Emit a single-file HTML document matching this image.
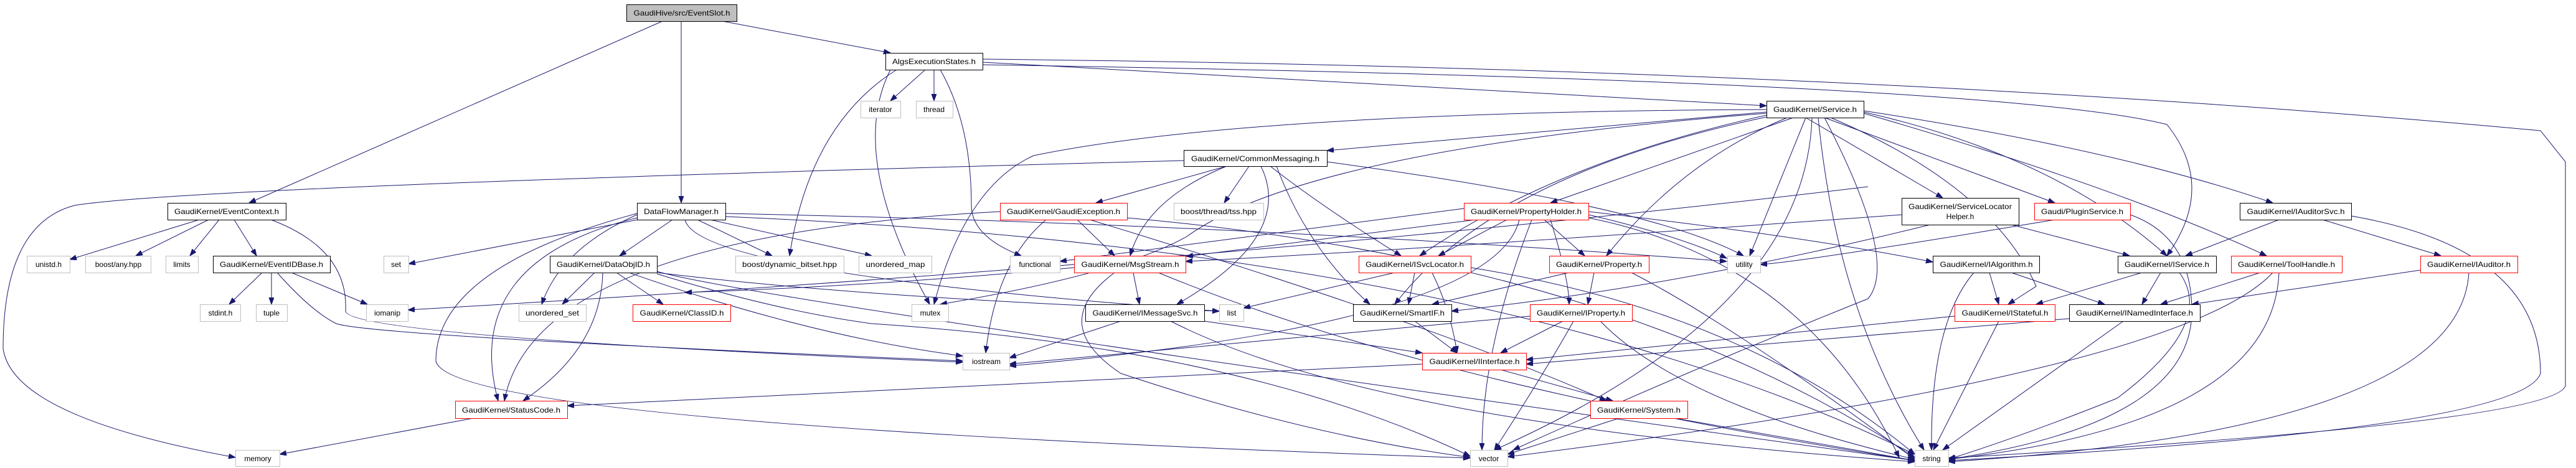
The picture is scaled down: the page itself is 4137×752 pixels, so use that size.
<!DOCTYPE html>
<html><head><meta charset="utf-8"><style>
html,body{margin:0;padding:0;background:#fff;}
svg{display:block}
text{font-family:"Liberation Sans",sans-serif;font-size:12px;fill:#000;}
.e{stroke:#191970;stroke-width:1;fill:none;marker-end:url(#a)}
.b{fill:#fff;stroke:#000;stroke-width:1}
.r{fill:#fff;stroke:#ff0000;stroke-width:1}
.g{fill:#fff;stroke:#bfbfbf;stroke-width:1}
</style></head><body>
<svg width="4137" height="752" viewBox="0 0 4137 752" xmlns="http://www.w3.org/2000/svg">
<defs><marker id="a" markerUnits="userSpaceOnUse" markerWidth="12" markerHeight="10" refX="11" refY="4" orient="auto"><path d="M0,0 L11,4 L0,8 z" fill="#191970" stroke="#191970"/></marker></defs>
<g>
<!-- EventSlot -->
<line class="e" x1="1064" y1="34" x2="400" y2="326"/>
<line class="e" x1="1094" y1="34" x2="1094" y2="326"/>
<line class="e" x1="1160" y1="34" x2="1430" y2="85"/>
<!-- AlgsExecutionStates -->
<line class="e" x1="1486" y1="112" x2="1430" y2="162"/>
<line class="e" x1="1500" y1="112" x2="1500" y2="162"/>
<path class="e" d="M1510,112 Q1560,200 1560,330 Q1560,380 1640,411"/>
<path class="e" d="M1440,112 Q1300,200 1268,411"/>
<path class="e" d="M1430,112 Q1360,250 1493,489"/>
<line class="e" x1="1578" y1="100" x2="2837" y2="170"/>
<path class="e" d="M1578,104 Q3200,130 3480,200 Q3560,300 3480,411"/>
<path class="e" d="M1578,95 Q3000,110 4080,210 L4120,260 L4120,620 Q4100,680 3129,736"/>
<!-- Service -->
<line class="e" x1="2837" y1="180" x2="2131" y2="242"/>
<line class="e" x1="2880" y1="189" x2="2490" y2="326"/>
<line class="e" x1="2900" y1="189" x2="3120" y2="318"/>
<line class="e" x1="2930" y1="189" x2="3300" y2="326"/>
<path class="e" d="M2993,178 Q3400,240 3650,326"/>
<path class="e" d="M2993,180 Q3300,250 3480,411"/>
<path class="e" d="M2993,182 Q3400,300 3640,411"/>
<path class="e" d="M2837,185 Q2500,260 2280,411"/>
<path class="e" d="M2837,188 Q2400,280 2240,489"/>
<path class="e" d="M2870,189 Q2700,260 2580,411"/>
<path class="e" d="M2837,182 Q2100,240 1906,380 Q1800,440 1510,489"/>
<path class="e" d="M2837,176 Q2000,180 1660,250 Q1550,300 1500,489"/>
<line class="e" x1="2900" y1="189" x2="2810" y2="411"/>
<path class="e" d="M2910,189 Q2900,500 2400,723"/>
<path class="e" d="M2920,189 Q2950,500 3090,723"/>
<path class="e" d="M2930,189 Q3050,420 3000,480 Q2700,600 2430,723"/>
<path class="e" d="M2940,189 Q3200,300 3270,460 L3225,489"/>
<!-- CommonMessaging -->
<line class="e" x1="1970" y1="267" x2="1760" y2="326"/>
<line class="e" x1="2006" y1="267" x2="1966" y2="326"/>
<path class="e" d="M1970,267 Q1840,320 1815,411"/>
<path class="e" d="M2025,267 Q2080,380 1890,489"/>
<path class="e" d="M2040,267 Q2120,330 2250,411"/>
<path class="e" d="M2050,267 Q2100,400 2200,489"/>
<path class="e" d="M2131,260 Q2650,330 2800,411"/>
<path class="e" d="M1901,258 Q300,300 120,330 Q5,360 5,560 Q20,670 378,735"/>
<!-- GaudiException -->
<line class="e" x1="1730" y1="353" x2="1790" y2="411"/>
<path class="e" d="M1680,353 Q1600,420 1583,567"/>
<path class="e" d="M1606,340 Q860,380 810,644"/>
<path class="e" d="M1750,353 Q2300,520 2580,644"/>
<path class="e" d="M1810,350 Q2600,420 3075,735"/>
<!-- DataFlowManager -->
<line class="e" x1="1050" y1="348" x2="656" y2="424"/>
<line class="e" x1="1080" y1="353" x2="995" y2="411"/>
<line class="e" x1="1120" y1="353" x2="1240" y2="411"/>
<line class="e" x1="1140" y1="353" x2="1400" y2="411"/>
<path class="e" d="M1023,345 Q900,400 870,489"/>
<path class="e" d="M1023,350 Q740,420 800,644"/>
<path class="e" d="M1023,343 Q700,430 700,580 Q720,680 2361,736"/>
<path class="e" d="M1100,353 Q1120,440 1958,500"/>
<path class="e" d="M1165,343 Q2000,360 2773,420"/>
<path class="e" d="M1165,348 Q2400,400 3075,730"/>
<!-- EventContext -->
<line class="e" x1="320" y1="353" x2="112" y2="417"/>
<line class="e" x1="335" y1="353" x2="218" y2="411"/>
<line class="e" x1="352" y1="353" x2="305" y2="411"/>
<line class="e" x1="376" y1="353" x2="412" y2="411"/>
<path class="e" d="M435,353 Q560,400 555,500 Q560,540 1546,582"/>
<!-- EventIDBase -->
<line class="e" x1="421" y1="438" x2="368" y2="489"/>
<line class="e" x1="436" y1="438" x2="436" y2="489"/>
<line class="e" x1="468" y1="438" x2="590" y2="489"/>
<path class="e" d="M445,438 Q500,500 540,520 Q600,540 1546,580"/>
<!-- DataObjID -->
<line class="e" x1="955" y1="438" x2="903" y2="489"/>
<line class="e" x1="990" y1="438" x2="1065" y2="489"/>
<path class="e" d="M968,438 Q965,560 840,644"/>
<path class="e" d="M1010,438 Q1300,540 1546,572"/>
<path class="e" d="M1055,438 Q1400,480 1958,500"/>
<path class="e" d="M1055,440 Q1250,500 1400,520 Q2000,560 2361,733"/>
<path class="e" d="M1055,436 Q1200,480 3075,740"/>
<!-- misc into iomanip -->
<path class="e" d="M3000,300 Q2000,420 655,498"/>
<!-- MsgStream -->
<line class="e" x1="1820" y1="438" x2="1830" y2="489"/>
<path class="e" d="M1790,438 Q1680,520 1800,600 Q2100,700 2361,735"/>
<path class="e" d="M1860,438 Q2300,620 3075,740"/>
<path class="e" d="M1725,430 Q1400,460 1100,470"/>
<!-- PropertyHolder -->
<line class="e" x1="2351" y1="335" x2="1702" y2="420"/>
<line class="e" x1="2370" y1="353" x2="1905" y2="412"/>
<line class="e" x1="2420" y1="353" x2="2310" y2="411"/>
<line class="e" x1="2480" y1="353" x2="2545" y2="411"/>
<path class="e" d="M2490,353 Q2520,450 2520,489"/>
<path class="e" d="M2551,345 Q2700,380 2773,415"/>
<path class="e" d="M2440,353 Q2400,520 1621,588"/>
<path class="e" d="M2460,353 Q2380,560 2380,723"/>
<path class="e" d="M2551,350 Q2900,420 3050,735"/>
<path class="e" d="M2551,340 Q2900,380 3104,421"/>
<!-- ISvcLocator -->
<line class="e" x1="2240" y1="438" x2="1997" y2="495"/>
<line class="e" x1="2272" y1="438" x2="2262" y2="489"/>
<path class="e" d="M2300,438 Q2330,500 2340,567"/>
<path class="e" d="M2362,430 Q2800,500 3075,730"/>
<!-- Property -->
<line class="e" x1="2560" y1="438" x2="2550" y2="489"/>
<line class="e" x1="2520" y1="438" x2="2300" y2="489"/>
<path class="e" d="M2620,438 Q2780,520 3075,738"/>
<!-- IMessageSvc -->
<line class="e" x1="1800" y1="516" x2="1621" y2="575"/>
<line class="e" x1="1934" y1="516" x2="2284" y2="567"/>
<path class="e" d="M1880,516 Q2200,680 3075,742"/>
<!-- SmartIF -->
<line class="e" x1="2272" y1="516" x2="2340" y2="567"/>
<!-- IProperty -->
<line class="e" x1="2510" y1="516" x2="2410" y2="567"/>
<path class="e" d="M2527,516 Q2480,600 2400,723"/>
<path class="e" d="M2570,516 Q2700,650 3075,738"/>
<line class="e" x1="2457" y1="508" x2="1621" y2="585"/>
<!-- IInterface -->
<line class="e" x1="2284" y1="585" x2="911" y2="652"/>
<line class="e" x1="2410" y1="594" x2="2590" y2="644"/>
<!-- System -->
<line class="e" x1="2600" y1="672" x2="2421" y2="730"/>
<line class="e" x1="2690" y1="672" x2="3075" y2="740"/>
<!-- StatusCode -->
<line class="e" x1="760" y1="672" x2="449" y2="730"/>
<!-- ServiceLocatorHelper -->
<line class="e" x1="3230" y1="361" x2="3420" y2="411"/>
<path class="e" d="M3054,345 Q2300,400 1904,420"/>
<path class="e" d="M3100,361 Q2700,460 2331,500"/>
<!-- PluginService -->
<path class="e" d="M3421,345 Q3520,380 3520,500 Q3520,680 3129,738"/>
<path class="e" d="M3300,353 Q2900,420 2827,425"/>
<!-- IAuditorSvc -->
<line class="e" x1="3660" y1="353" x2="3510" y2="411"/>
<line class="e" x1="3730" y1="353" x2="3920" y2="411"/>
<path class="e" d="M3776,347 Q4080,400 4080,600 Q4050,690 3129,740"/>
<!-- IAlgorithm -->
<line class="e" x1="3195" y1="438" x2="3210" y2="489"/>
<line class="e" x1="3230" y1="438" x2="3380" y2="489"/>
<path class="e" d="M3170,438 Q3100,520 3102,723"/>
<!-- IService -->
<line class="e" x1="3440" y1="438" x2="3270" y2="489"/>
<line class="e" x1="3470" y1="438" x2="3440" y2="489"/>
<path class="e" d="M3500,438 Q3560,520 3400,640 Q3250,700 3129,738"/>
<!-- ToolHandle -->
<line class="e" x1="3630" y1="438" x2="3470" y2="489"/>
<path class="e" d="M3660,438 Q3650,680 3129,738"/>
<path class="e" d="M3650,438 Q3500,600 2421,734"/>
<!-- IAuditor -->
<line class="e" x1="3887" y1="434" x2="3520" y2="489"/>
<path class="e" d="M3965,438 Q3950,690 3129,742"/>
<!-- IStateful / INamedInterface -->
<line class="e" x1="3139" y1="508" x2="2451" y2="578"/>
<line class="e" x1="3210" y1="516" x2="3105" y2="723"/>
<line class="e" x1="3323" y1="512" x2="2451" y2="585"/>
<line class="e" x1="3410" y1="516" x2="3120" y2="723"/>
</g>
<g>
<rect x="1006.5" y="7.5" width="177" height="27" fill="#bfbfbf" stroke="#000"/><text x="1095" y="25" text-anchor="middle" textLength="155" lengthAdjust="spacingAndGlyphs">GaudiHive/src/EventSlot.h</text>
<rect class="b" x="1422.5" y="85.5" width="156" height="27"/><text x="1500" y="103" text-anchor="middle" textLength="134" lengthAdjust="spacingAndGlyphs">AlgsExecutionStates.h</text>
<rect class="g" x="1382.5" y="162.5" width="64" height="27"/><text x="1414" y="180" text-anchor="middle">iterator</text>
<rect class="g" x="1471.5" y="162.5" width="59" height="27"/><text x="1500" y="180" text-anchor="middle">thread</text>
<rect class="b" x="2837.5" y="162.5" width="156" height="27"/><text x="2915" y="180" text-anchor="middle" textLength="134" lengthAdjust="spacingAndGlyphs">GaudiKernel/Service.h</text>
<rect class="b" x="1901.5" y="241.5" width="230" height="26"/><text x="2016" y="259" text-anchor="middle" textLength="206" lengthAdjust="spacingAndGlyphs">GaudiKernel/CommonMessaging.h</text>
<rect class="b" x="269.5" y="326.5" width="190" height="27"/><text x="364" y="344" text-anchor="middle" textLength="168" lengthAdjust="spacingAndGlyphs">GaudiKernel/EventContext.h</text>
<rect class="b" x="1023.5" y="326.5" width="142" height="27"/><text x="1094" y="344" text-anchor="middle" textLength="120" lengthAdjust="spacingAndGlyphs">DataFlowManager.h</text>
<rect class="r" x="1606.5" y="326.5" width="204" height="27"/><text x="1708" y="344" text-anchor="middle" textLength="182" lengthAdjust="spacingAndGlyphs">GaudiKernel/GaudiException.h</text>
<rect class="g" x="1885.5" y="326.5" width="144" height="27"/><text x="1957" y="344" text-anchor="middle" textLength="122" lengthAdjust="spacingAndGlyphs">boost/thread/tss.hpp</text>
<rect class="r" x="2351.5" y="326.5" width="200" height="27"/><text x="2451" y="344" text-anchor="middle" textLength="178" lengthAdjust="spacingAndGlyphs">GaudiKernel/PropertyHolder.h</text>
<rect class="b" x="3054.5" y="318.5" width="188" height="43"/><text x="3148" y="336" text-anchor="middle" textLength="166" lengthAdjust="spacingAndGlyphs">GaudiKernel/ServiceLocator</text><text x="3148" y="352" text-anchor="middle">Helper.h</text>
<rect class="r" x="3267.5" y="326.5" width="154" height="27"/><text x="3344" y="344" text-anchor="middle" textLength="132" lengthAdjust="spacingAndGlyphs">Gaudi/PluginService.h</text>
<rect class="b" x="3597.5" y="326.5" width="179" height="27"/><text x="3687" y="344" text-anchor="middle" textLength="157" lengthAdjust="spacingAndGlyphs">GaudiKernel/IAuditorSvc.h</text>

<rect class="g" x="43.5" y="411.5" width="69" height="27"/><text x="78" y="429" text-anchor="middle">unistd.h</text>
<rect class="g" x="137.5" y="411.5" width="105" height="27"/><text x="190" y="429" text-anchor="middle">boost/any.hpp</text>
<rect class="g" x="266.5" y="411.5" width="52" height="27"/><text x="292" y="429" text-anchor="middle">limits</text>
<rect class="b" x="342.5" y="411.5" width="188" height="27"/><text x="436" y="429" text-anchor="middle" textLength="166" lengthAdjust="spacingAndGlyphs">GaudiKernel/EventIDBase.h</text>
<rect class="g" x="616.5" y="411.5" width="40" height="27"/><text x="636" y="429" text-anchor="middle">set</text>
<rect class="b" x="883.5" y="411.5" width="172" height="27"/><text x="969" y="429" text-anchor="middle" textLength="150" lengthAdjust="spacingAndGlyphs">GaudiKernel/DataObjID.h</text>
<rect class="g" x="1181.5" y="411.5" width="174" height="27"/><text x="1268" y="429" text-anchor="middle" textLength="152" lengthAdjust="spacingAndGlyphs">boost/dynamic_bitset.hpp</text>
<rect class="g" x="1379.5" y="411.5" width="117" height="27"/><text x="1438" y="429" text-anchor="middle" textLength="95" lengthAdjust="spacingAndGlyphs">unordered_map</text>
<rect class="g" x="1622.5" y="411.5" width="80" height="27"/><text x="1662" y="429" text-anchor="middle">functional</text>
<rect class="r" x="1725.5" y="411.5" width="179" height="27"/><text x="1815" y="429" text-anchor="middle" textLength="157" lengthAdjust="spacingAndGlyphs">GaudiKernel/MsgStream.h</text>
<rect class="r" x="2182.5" y="411.5" width="180" height="27"/><text x="2272" y="429" text-anchor="middle" textLength="158" lengthAdjust="spacingAndGlyphs">GaudiKernel/ISvcLocator.h</text>
<rect class="r" x="2488.5" y="411.5" width="160" height="27"/><text x="2568" y="429" text-anchor="middle" textLength="138" lengthAdjust="spacingAndGlyphs">GaudiKernel/Property.h</text>
<rect class="g" x="2774.5" y="411.5" width="53" height="27"/><text x="2801" y="429" text-anchor="middle">utility</text>
<rect class="b" x="3104.5" y="411.5" width="171" height="27"/><text x="3190" y="429" text-anchor="middle" textLength="149" lengthAdjust="spacingAndGlyphs">GaudiKernel/IAlgorithm.h</text>
<rect class="b" x="3401.5" y="411.5" width="158" height="27"/><text x="3480" y="429" text-anchor="middle" textLength="136" lengthAdjust="spacingAndGlyphs">GaudiKernel/IService.h</text>
<rect class="r" x="3583.5" y="411.5" width="178" height="27"/><text x="3672" y="429" text-anchor="middle" textLength="156" lengthAdjust="spacingAndGlyphs">GaudiKernel/ToolHandle.h</text>
<rect class="r" x="3887.5" y="411.5" width="156" height="27"/><text x="3965" y="429" text-anchor="middle" textLength="134" lengthAdjust="spacingAndGlyphs">GaudiKernel/IAuditor.h</text>

<rect class="g" x="321.5" y="489.5" width="65" height="27"/><text x="354" y="507" text-anchor="middle">stdint.h</text>
<rect class="g" x="411.5" y="489.5" width="50" height="27"/><text x="436" y="507" text-anchor="middle">tuple</text>
<rect class="g" x="588.5" y="489.5" width="67" height="27"/><text x="622" y="507" text-anchor="middle">iomanip</text>
<rect class="g" x="833.5" y="489.5" width="108" height="27"/><text x="887" y="507" text-anchor="middle" textLength="86" lengthAdjust="spacingAndGlyphs">unordered_set</text>
<rect class="r" x="1016.5" y="489.5" width="157" height="27"/><text x="1095" y="507" text-anchor="middle" textLength="135" lengthAdjust="spacingAndGlyphs">GaudiKernel/ClassID.h</text>
<rect class="g" x="1464.5" y="489.5" width="59" height="27"/><text x="1494" y="507" text-anchor="middle">mutex</text>
<rect class="b" x="1743.5" y="489.5" width="191" height="27"/><text x="1839" y="507" text-anchor="middle" textLength="169" lengthAdjust="spacingAndGlyphs">GaudiKernel/IMessageSvc.h</text>
<rect class="g" x="1958.5" y="489.5" width="39" height="27"/><text x="1978" y="507" text-anchor="middle">list</text>
<rect class="b" x="2173.5" y="489.5" width="158" height="27"/><text x="2252" y="507" text-anchor="middle" textLength="136" lengthAdjust="spacingAndGlyphs">GaudiKernel/SmartIF.h</text>
<rect class="r" x="2457.5" y="489.5" width="164" height="27"/><text x="2539" y="507" text-anchor="middle" textLength="142" lengthAdjust="spacingAndGlyphs">GaudiKernel/IProperty.h</text>
<rect class="r" x="3139.5" y="489.5" width="161" height="27"/><text x="3220" y="507" text-anchor="middle" textLength="139" lengthAdjust="spacingAndGlyphs">GaudiKernel/IStateful.h</text>
<rect class="b" x="3323.5" y="489.5" width="210" height="27"/><text x="3428" y="507" text-anchor="middle" textLength="188" lengthAdjust="spacingAndGlyphs">GaudiKernel/INamedInterface.h</text>

<rect class="g" x="1546.5" y="567.5" width="75" height="27"/><text x="1584" y="585" text-anchor="middle">iostream</text>
<rect class="r" x="2284.5" y="567.5" width="167" height="27"/><text x="2368" y="585" text-anchor="middle" textLength="145" lengthAdjust="spacingAndGlyphs">GaudiKernel/IInterface.h</text>

<rect class="r" x="731.5" y="644.5" width="180" height="28"/><text x="821" y="663" text-anchor="middle" textLength="158" lengthAdjust="spacingAndGlyphs">GaudiKernel/StatusCode.h</text>
<rect class="r" x="2554.5" y="644.5" width="156" height="28"/><text x="2632" y="663" text-anchor="middle" textLength="134" lengthAdjust="spacingAndGlyphs">GaudiKernel/System.h</text>

<rect class="g" x="378.5" y="723.5" width="71" height="26"/><text x="414" y="741" text-anchor="middle">memory</text>
<rect class="g" x="2361.5" y="723.5" width="60" height="26"/><text x="2391" y="741" text-anchor="middle">vector</text>
<rect class="g" x="3075.5" y="723.5" width="54" height="26"/><text x="3102" y="741" text-anchor="middle">string</text>
</g>
</svg>
</body></html>
